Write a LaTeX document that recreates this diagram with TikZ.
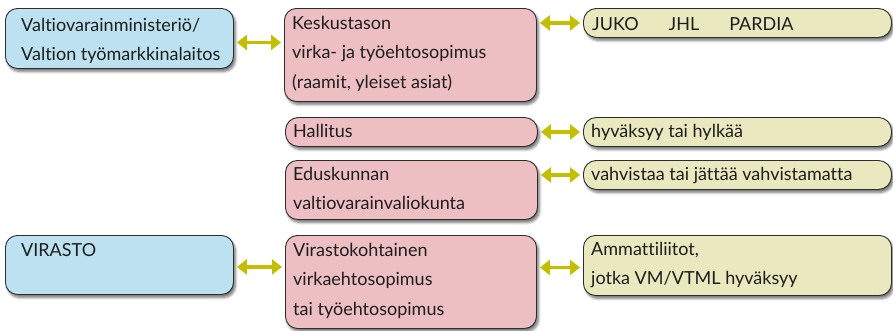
\documentclass[tikz,border=0pt]{standalone}
\usepackage{fontspec}
\setmainfont{Lato}[Ligatures={NoCommon,NoRare,NoContextual}]
\usetikzlibrary{arrows.meta,shadows.blur}
\definecolor{bluefill}{RGB}{188,225,241}
\definecolor{pinkfill}{RGB}{237,190,194}
\definecolor{yelfill}{RGB}{234,232,190}
\definecolor{arrowcol}{RGB}{196,190,0}
\definecolor{edgecol}{RGB}{45,45,45}
\definecolor{txtcol}{RGB}{30,30,30}
\tikzset{
  box/.style={draw=edgecol, line width=0.9pt, rounded corners=12pt, anchor=north west, inner sep=0pt,
    blur shadow={shadow xshift=2pt, shadow yshift=-3pt, shadow blur steps=6, shadow blur radius=2.5pt, shadow opacity=55}},
  bluebox/.style={box, fill=bluefill},
  pinkbox/.style={box, fill=pinkfill},
  yelbox/.style={box, fill=yelfill, rounded corners=13pt},
  txt/.style={anchor=north west, inner sep=0pt, align=left, text=txtcol, font=\fontsize{18}{29.5}\selectfont},
  dbl/.style={draw=arrowcol, line width=3.5pt, {Triangle[length=10pt,width=15pt]}-{Triangle[length=10pt,width=15pt]}, shorten <=3pt, shorten >=3pt}
}
\begin{document}
\begin{tikzpicture}[x=1pt,y=-1pt]
\useasboundingbox (0,0) rectangle (893,330);
% boxes
\node[bluebox, minimum width=228pt, minimum height=60pt] (vm) at (5,8) {};
\node[pinkbox, minimum width=252pt, minimum height=93pt] (kesk) at (284,8) {};
\node[yelbox, minimum width=308pt, minimum height=29pt] (juko) at (583,8) {};
\node[pinkbox, minimum width=252pt, minimum height=29pt, rounded corners=13pt] (hall) at (285,117) {};
\node[yelbox, minimum width=308pt, minimum height=29pt] (hyv) at (583,117) {};
\node[pinkbox, minimum width=252pt, minimum height=59pt] (edu) at (285,160) {};
\node[yelbox, minimum width=308pt, minimum height=29pt] (vah) at (583,160) {};
\node[bluebox, minimum width=228pt, minimum height=59pt] (vir) at (5,235) {};
\node[pinkbox, minimum width=251pt, minimum height=93pt] (vk) at (285,235) {};
\node[yelbox, minimum width=308pt, minimum height=60pt, rounded corners=12pt] (amm) at (583,235) {};
% texts
\node[txt] (vmt) at ([xshift=16pt,yshift=-10pt]vm.north west) {Valtiovarainministeriö/\\Valtion työmarkkinalaitos};
\node[txt] (keskt) at ([xshift=8pt,yshift=-8pt]kesk.north west) {Keskustason\\virka- ja työehtosopimus\\(raamit, yleiset asiat)};
\node[txt] (jukot) at ([xshift=9pt,yshift=-9pt]juko.north west) {JUKO\hspace{30pt}JHL\hspace{30pt}PARDIA};
\node[txt] (hallt) at ([xshift=8pt,yshift=-7pt]hall.north west) {Hallitus};
\node[txt] (hyvt) at ([xshift=8pt,yshift=-7pt]hyv.north west) {hyväksyy tai hylkää};
\node[txt] (edut) at ([xshift=8pt,yshift=-7pt]edu.north west) {Eduskunnan\\valtiovarainvaliokunta};
\node[txt] (vaht) at ([xshift=8pt,yshift=-7pt]vah.north west) {vahvistaa tai jättää vahvistamatta};
\node[txt] (virt) at ([xshift=16pt,yshift=-8pt]vir.north west) {VIRASTO};
\node[txt] (vkt) at ([xshift=8pt,yshift=-8pt]vk.north west) {Virastokohtainen\\virkaehtosopimus\\tai työehtosopimus};
\node[txt] (ammt) at ([xshift=8pt,yshift=-7pt]amm.north west) {Ammattiliitot,\\jotka VM/VTML hyväksyy};
% connectors
\draw[dbl] ([yshift=-4pt]vm.east) -- ([yshift=-4pt]vm.east -| kesk.west);
\draw[dbl] (juko.west -| kesk.east) -- (juko.west);
\draw[dbl] (hall.east) -- (hyv.west);
\draw[dbl] (vah.west -| edu.east) -- (vah.west);
\draw[dbl] ([yshift=-2pt]vir.east) -- ([yshift=-2pt]vir.east -| vk.west);
\draw[dbl] ([yshift=-2pt]amm.west -| vk.east) -- ([yshift=-2pt]amm.west);
\end{tikzpicture}
\end{document}
